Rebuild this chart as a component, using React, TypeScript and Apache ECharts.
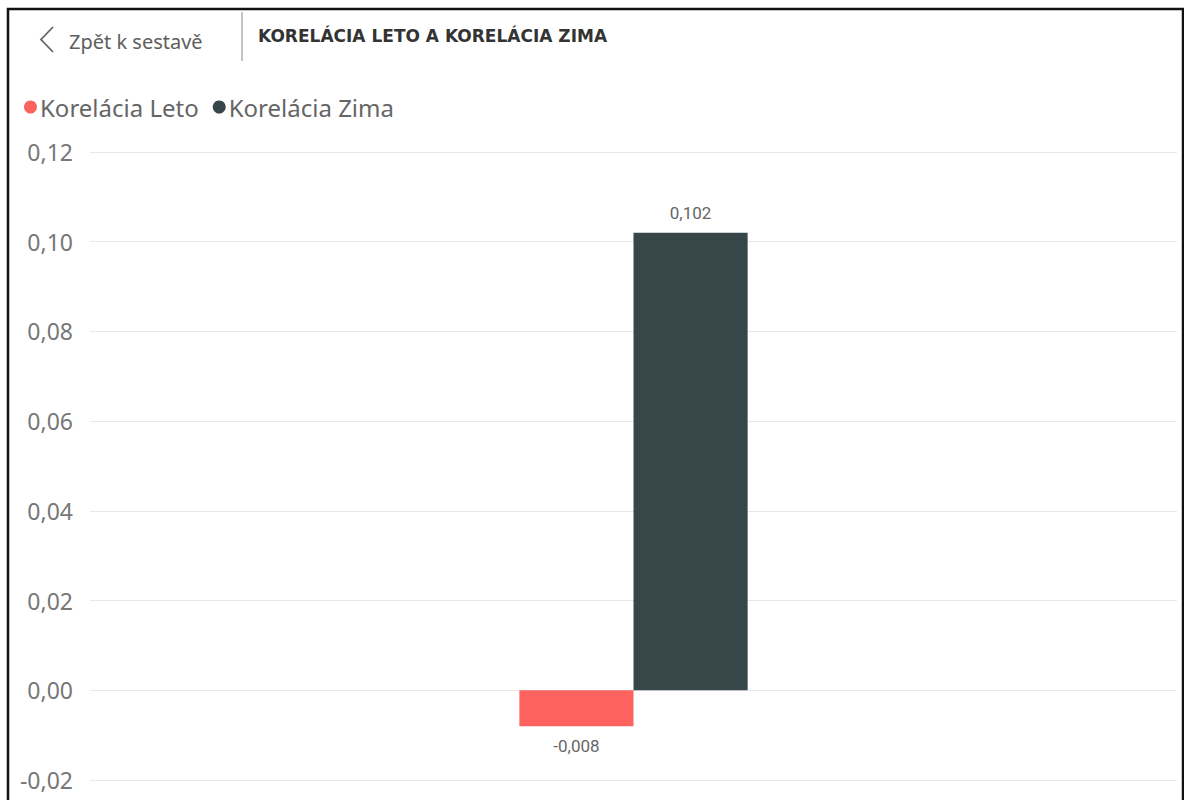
import React, { useEffect, useRef } from "react";
import * as echarts from "echarts";

const categories = ["Korelácia"];
const seriesNames = ["Korelácia Leto", "Korelácia Zima"];
const letoValues = [-0.008];
const zimaValues = [0.102];
const seriesColors = ["#FD625E", "#374649"];
const yMin = -0.02;
const yMax = 0.12;
const yInterval = 0.02;
const titleText = "KORELÁCIA LETO A KORELÁCIA ZIMA";
const backText = "Zpět k sestavě";

const fmt = (v: number, d: number) => v.toFixed(d).replace(".", ",");

export default function App() {
  const ref = useRef<HTMLDivElement>(null);
  useEffect(() => {
    if (!ref.current) return;
    const chart = echarts.init(ref.current, undefined, { renderer: "svg" });
    const labelStyle = {
      show: true,
      color: "#666666",
      fontFamily: "Roboto",
      fontSize: 17,
      distance: 11,
      formatter: (p: any) => fmt(p.value, 3),
    };
    chart.setOption({
      animation: false,
      backgroundColor: "#ffffff",
      graphic: [
        {
          type: "rect",
          shape: { x: 8, y: 9, width: 1175, height: 810 },
          style: { fill: "none", stroke: "#111111", lineWidth: 2.5 },
          z: 100,
        },
        {
          type: "polyline",
          shape: { points: [[53, 27], [41, 39.5], [53, 52]] },
          style: { fill: "none", stroke: "#666666", lineWidth: 1.8 },
        },
        {
          type: "text",
          x: 69,
          y: 41,
          style: {
            text: backText,
            fontFamily: "Noto Sans",
            fontSize: 20,
            fill: "#605E5C",
            verticalAlign: "middle",
          },
        },
        {
          type: "line",
          shape: { x1: 242, y1: 12, x2: 242, y2: 61 },
          style: { stroke: "#888888", lineWidth: 1 },
        },
        {
          type: "text",
          x: 258,
          y: 36,
          style: {
            text: titleText,
            fontFamily: "DejaVu Sans",
            fontWeight: "bold",
            fontSize: 17,
            fill: "#333333",
            verticalAlign: "middle",
          },
        },
      ],
      color: seriesColors,
      legend: {
        left: 19,
        top: 90,
        icon: "circle",
        itemWidth: 13,
        itemHeight: 13,
        itemGap: 14,
        textStyle: { color: "#666666", fontFamily: "Noto Sans", fontSize: 24, padding: [0, 0, 0, -2] },
        data: seriesNames,
      },
      grid: { left: 90, right: 7, top: 152, bottom: 20, containLabel: false },
      xAxis: {
        type: "category",
        data: categories,
        show: false,
      },
      yAxis: {
        type: "value",
        min: yMin,
        max: yMax,
        interval: yInterval,
        axisLine: { show: false },
        axisTick: { show: false },
        axisLabel: {
          color: "#777777",
          fontFamily: "Noto Sans",
          fontSize: 23,
          margin: 17,
          formatter: (v: number) => fmt(v, 2),
        },
        splitLine: { lineStyle: { color: "#E8E8E8", width: 1 } },
      },
      series: [
        {
          name: seriesNames[0],
          type: "bar",
          data: letoValues,
          barGap: "0%",
          barCategoryGap: "79%",
          label: { ...labelStyle, position: "bottom" },
        },
        {
          name: seriesNames[1],
          type: "bar",
          data: zimaValues,
          barGap: "0%",
          barCategoryGap: "79%",
          label: { ...labelStyle, position: "top" },
        },
      ],
    });
    return () => chart.dispose();
  }, []);
  return (
    <div
      ref={ref}
      style={{ position: "fixed", left: 0, top: 0, width: 1184, height: 800 }}
    />
  );
}
